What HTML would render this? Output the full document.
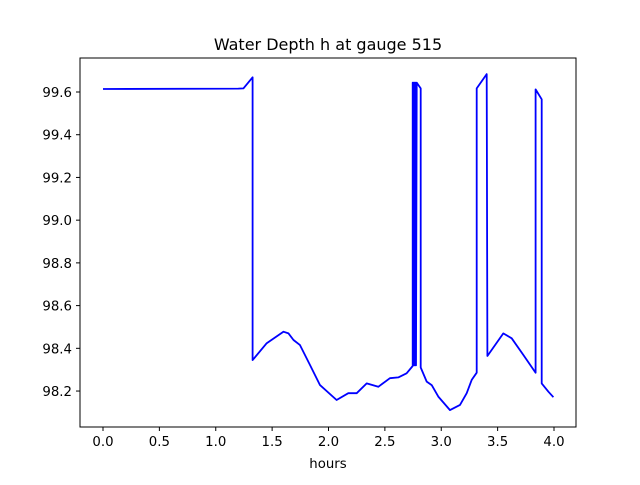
<!DOCTYPE html>
<html><head><meta charset="utf-8"><style>
body{margin:0;background:#fff}
svg text{font-family:"DejaVu Sans","Liberation Sans",sans-serif;fill:#000}
</style></head><body>
<svg width="640" height="480" xmlns="http://www.w3.org/2000/svg">
<rect width="640" height="480" fill="#fff"/>
<text x="328" y="50" font-size="16" text-anchor="middle">Water Depth h at gauge 515</text>
<g id="ticks"></g>
<path id="line" fill="none" stroke="#0000ff" stroke-width="1.8" stroke-linejoin="round"/>
<rect x="80" y="58" width="496" height="369" fill="none" stroke="#000" stroke-width="1"/>
<text x="328" y="468" font-size="13.3" text-anchor="middle">hours</text>
</svg>
<script>
const hours=[0,1.2,1.245,1.327,1.327,1.452,1.6,1.645,1.69,1.747,1.836,1.925,2.072,2.176,2.25,2.339,2.442,2.545,2.619,2.693,2.747,2.747,2.752,2.756,2.76,2.764,2.768,2.772,2.776,2.782,2.818,2.818,2.871,2.915,2.974,3.078,3.166,3.226,3.27,3.314,3.314,3.403,3.409,3.55,3.625,3.728,3.837,3.837,3.891,3.891,3.95,3.995];
const depth=[99.614,99.616,99.617,99.669,98.345,98.424,98.478,98.47,98.439,98.415,98.322,98.228,98.158,98.19,98.19,98.236,98.22,98.26,98.264,98.283,98.317,99.644,98.32,99.644,98.32,99.644,98.32,99.644,98.32,99.644,99.617,98.31,98.244,98.228,98.174,98.111,98.135,98.19,98.252,98.286,99.617,99.684,98.364,98.47,98.447,98.369,98.286,99.612,99.566,98.236,98.197,98.171];
const xTicks=[0,0.5,1.0,1.5,2.0,2.5,3.0,3.5,4.0];
const yTicks=[98.2,98.4,98.6,98.8,99.0,99.2,99.4,99.6];
const sx=v=>103+v*112.75;
const sy=v=>92+(99.6-v)*213.6;
const NS="http://www.w3.org/2000/svg";
const g=document.getElementById('ticks');
xTicks.forEach(t=>{
 const l=document.createElementNS(NS,'line');
 l.setAttribute('x1',sx(t));l.setAttribute('x2',sx(t));l.setAttribute('y1',427);l.setAttribute('y2',431);l.setAttribute('stroke','#000');
 
 
 g.appendChild(l);
 const tx=document.createElementNS(NS,'text');
 tx.setAttribute('x',sx(t));tx.setAttribute('y',446);tx.setAttribute('font-size','13.3');tx.setAttribute('text-anchor','middle');
 tx.textContent=t.toFixed(1);
 
 
 g.appendChild(tx);
});
yTicks.forEach(t=>{
 const l=document.createElementNS(NS,'line');
 l.setAttribute('x1',76);l.setAttribute('x2',80);l.setAttribute('y1',sy(t));l.setAttribute('y2',sy(t));l.setAttribute('stroke','#000');
 
 
 g.appendChild(l);
 const tx=document.createElementNS(NS,'text');
 tx.setAttribute('x',72);tx.setAttribute('y',sy(t)+5);tx.setAttribute('font-size','13.3');tx.setAttribute('text-anchor','end');
 tx.textContent=t.toFixed(1);
 
 
 g.appendChild(tx);
});
document.getElementById('line').setAttribute('d',hours.map((h,i)=>(i?'L':'M')+sx(h).toFixed(1)+' '+sy(depth[i]).toFixed(1)).join(' '));
</script>
</body></html>
